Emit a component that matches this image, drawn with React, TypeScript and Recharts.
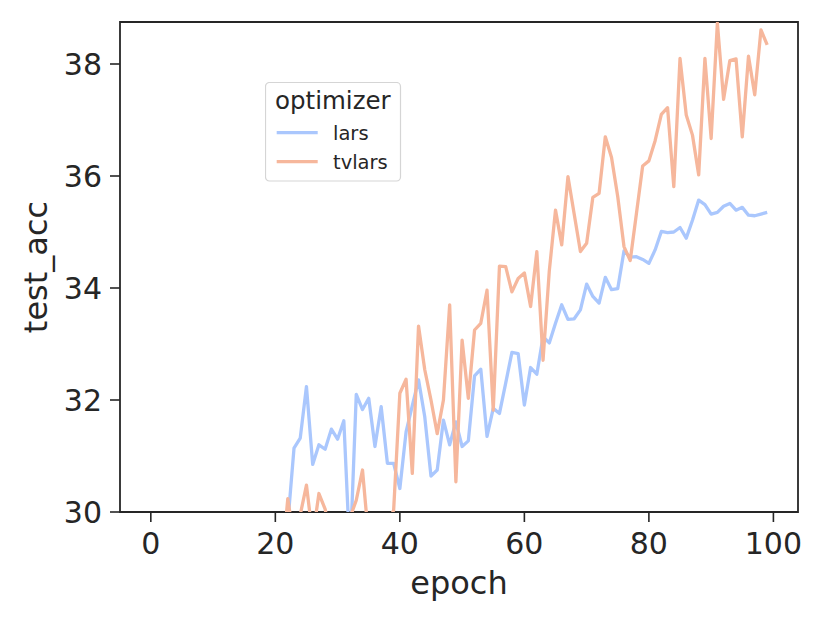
import React from 'react';
import { LineChart, Line, XAxis, YAxis, Legend, ReferenceArea } from 'recharts';

// epochs 0-20 sit below the y floor of 30 and are not visible in the figure
const EPOCHS = [
    21, 22, 23, 24, 25, 26, 27, 28, 29, 30, 31, 32, 33, 34, 35, 36, 37, 38, 39, 40,
    41, 42, 43, 44, 45, 46, 47, 48, 49, 50, 51, 52, 53, 54, 55, 56, 57, 58, 59, 60,
    61, 62, 63, 64, 65, 66, 67, 68, 69, 70, 71, 72, 73, 74, 75, 76, 77, 78, 79, 80,
    81, 82, 83, 84, 85, 86, 87, 88, 89, 90, 91, 92, 93, 94, 95, 96, 97, 98, 99,
];

const LARS = [
    28.8, 29.8, 31.14, 31.32, 32.24, 30.85, 31.2, 31.12, 31.48, 31.3, 31.63, 29.2, 32.1, 31.83, 32.03, 31.17, 31.88, 30.87, 30.87, 30.42,
    31.43, 31.9, 32.36, 31.7, 30.64, 30.75, 31.64, 31.2, 31.61, 31.17, 31.27, 32.43, 32.55, 31.35, 31.85, 31.76, 32.3, 32.85, 32.83, 31.91,
    32.58, 32.46, 33.13, 33.02, 33.37, 33.7, 33.44, 33.45, 33.61, 34.07, 33.85, 33.73, 34.19, 33.97, 33.99, 34.66, 34.55, 34.56, 34.51, 34.44,
    34.68, 35.01, 34.99, 35.0, 35.08, 34.89, 35.21, 35.57, 35.49, 35.32, 35.35, 35.46, 35.51, 35.39, 35.44, 35.3, 35.29, 35.32, 35.35,
];

const TVLARS = [
    29.0, 30.24, 29.49, 29.95, 30.48, 29.55, 30.33, 30.05, 29.5, 29.4, 29.5, 29.9, 30.21, 30.75, 29.5, 29.6, 29.7, 29.8, 30.03, 32.12,
    32.37, 30.69, 33.32, 32.54, 32.0, 31.4, 32.0, 33.7, 30.54, 33.07, 32.03, 33.25, 33.37, 33.96, 31.82, 34.39, 34.38, 33.93, 34.17, 34.27,
    33.67, 34.65, 32.71, 34.3, 35.39, 34.77, 35.99, 35.32, 34.65, 34.8, 35.62, 35.69, 36.7, 36.33, 35.63, 34.74, 34.49, 35.33, 36.18, 36.27,
    36.63, 37.1, 37.22, 35.81, 38.1, 37.09, 36.73, 36.02, 38.1, 36.67, 38.73, 37.37, 38.06, 38.09, 36.7, 38.14, 37.45, 38.61, 38.34,
];

const X_TICKS = [0, 20, 40, 60, 80, 100];
const Y_TICKS = [30, 32, 34, 36, 38];
const X_DOMAIN = [-4.95, 103.95];
const Y_DOMAIN = [30, 38.75];

const LARS_COLOR = '#aac7fd';
const TVLARS_COLOR = '#f6b79c';
const INK = '#262626';
const FONT = '"DejaVu Sans", sans-serif';

const data = EPOCHS.map((epoch, i) => ({ epoch, lars: LARS[i], tvlars: TVLARS[i] }));

function AxisTitle({ px, py, rot, text }: { px: number; py: number; rot?: number; text: string }) {
    return (
        <text
            x={px}
            y={py}
            textAnchor="middle"
            fontSize={32}
            fontFamily={FONT}
            fill={INK}
            transform={rot ? `rotate(${rot}, ${px}, ${py})` : undefined}
        >
            {text}
        </text>
    );
}

function LegendBox({ payload }: any) {
    const items = payload || [];
    return (
        <svg width={137} height={101} style={{ display: 'block' }}>
            <rect x={0.5} y={0.5} width={135} height={98.5} rx={4} fill="#ffffff" fillOpacity={0.8} stroke="#d5d5d5" strokeWidth={1.2} />
            <text x={10} y={26.5} fontSize={24.5} fontFamily={FONT} fill={INK}>optimizer</text>
            {items.map((item: any, i: number) => (
                <g key={item.value}>
                    <line x1={11.7} x2={52.7} y1={50.7 + i * 29} y2={50.7 + i * 29} stroke={item.color} strokeWidth={3.3} />
                    <text x={68} y={58 + i * 28.5} fontSize={19.5} fontFamily={FONT} fill={INK}>{item.value}</text>
                </g>
            ))}
        </svg>
    );
}

export default function App() {
    const tickStyle = { fontSize: 30, fontFamily: FONT, fill: INK };
    return (
        <div style={{ position: 'absolute', left: 0, top: 0, width: 830, height: 623, background: '#ffffff' }}>
            <LineChart width={830} height={623} data={data} margin={{ top: 22, right: 32, bottom: 0, left: 0 }}>
                <XAxis
                    dataKey="epoch"
                    type="number"
                    domain={X_DOMAIN}
                    ticks={X_TICKS}
                    allowDataOverflow
                    height={111}
                    axisLine={false}
                    tickSize={10}
                    tickMargin={11}
                    tickLine={{ stroke: INK, strokeWidth: 1.6 }}
                    tick={tickStyle}
                    interval={0}
                    label={<AxisTitle px={459} py={594} text="epoch" />}
                />
                <YAxis
                    type="number"
                    domain={Y_DOMAIN}
                    ticks={Y_TICKS}
                    allowDataOverflow
                    width={120}
                    axisLine={false}
                    tickSize={10}
                    tickMargin={8}
                    tickLine={{ stroke: INK, strokeWidth: 1.6 }}
                    tick={tickStyle}
                    interval={0}
                    label={<AxisTitle px={47} py={267} rot={-90} text="test_acc" />}
                />
                <Line
                    type="linear"
                    dataKey="lars"
                    name="lars"
                    stroke={LARS_COLOR}
                    strokeWidth={3.3}
                    strokeLinejoin="round"
                    dot={false}
                    activeDot={false}
                    isAnimationActive={false}
                />
                <Line
                    type="linear"
                    dataKey="tvlars"
                    name="tvlars"
                    stroke={TVLARS_COLOR}
                    strokeWidth={3.3}
                    strokeLinejoin="round"
                    dot={false}
                    activeDot={false}
                    isAnimationActive={false}
                />
                <ReferenceArea
                    x1={X_DOMAIN[0]}
                    x2={X_DOMAIN[1]}
                    y1={Y_DOMAIN[0]}
                    y2={Y_DOMAIN[1]}
                    fill="none"
                    fillOpacity={0}
                    stroke={INK}
                    strokeWidth={1.8}
                />
                <Legend
                    layout="vertical"
                    align="center"
                    verticalAlign="middle"
                    content={<LegendBox />}
                    wrapperStyle={{ left: 265, top: 82, width: 137, height: 101 }}
                />
            </LineChart>
        </div>
    );
}
